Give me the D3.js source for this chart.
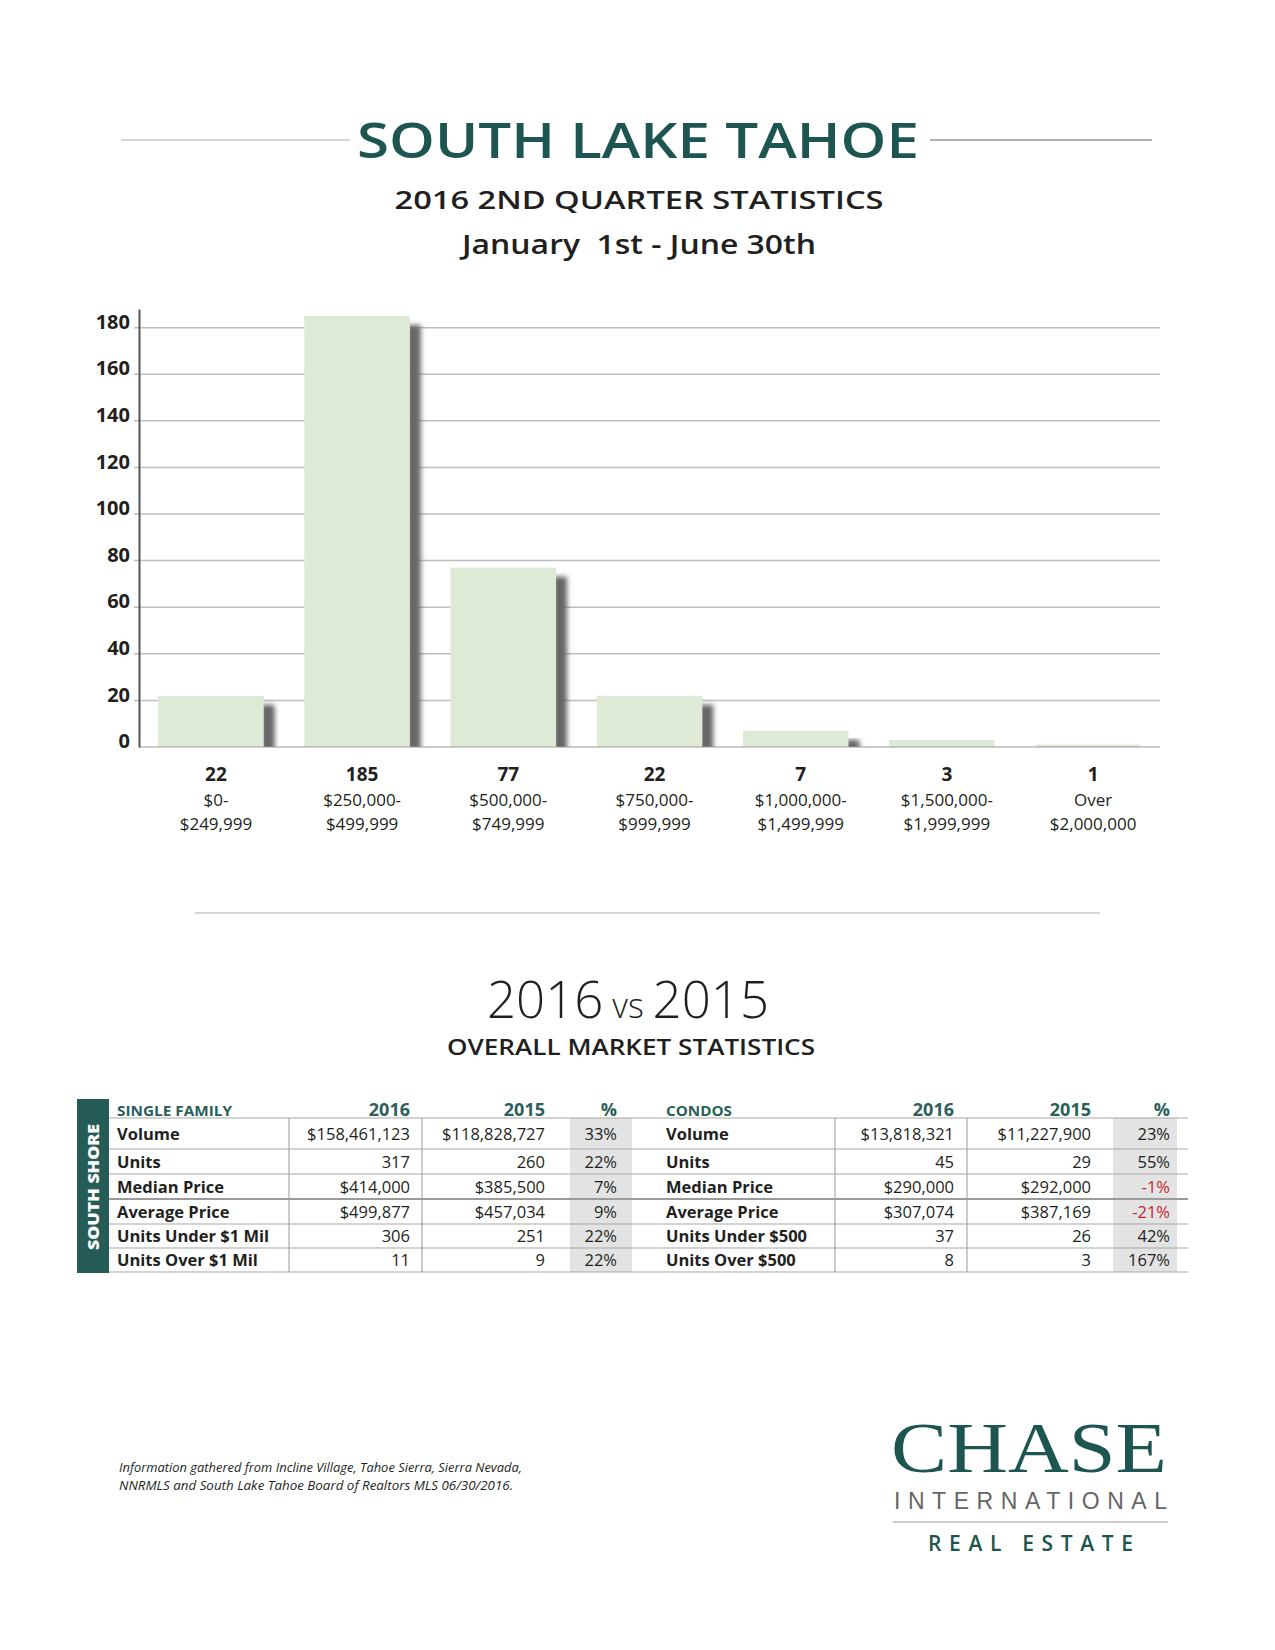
<!DOCTYPE html>
<html>
<head>
<meta charset="utf-8">
<script src="https://cdn.jsdelivr.net/npm/d3@7"></script>
<style>
  body { margin: 0; background: #fff; }
  text { font-family: "Open Sans", "DejaVu Sans", sans-serif; }
</style>
</head>
<body>
<svg id="page" width="1275" height="1650"></svg>
<script>
// bar chart data
var priceRanges = [
    ["$0-", "$249,999"],
    ["$250,000-", "$499,999"],
    ["$500,000-", "$749,999"],
    ["$750,000-", "$999,999"],
    ["$1,000,000-", "$1,499,999"],
    ["$1,500,000-", "$1,999,999"],
    ["Over", "$2,000,000"]
];
var unitsSold = [22, 185, 77, 22, 7, 3, 1];
var yTicks = [0, 20, 40, 60, 80, 100, 120, 140, 160, 180];

// table data
var tableCols = ["2016", "2015", "%"];
var sfLabels = ["Volume", "Units", "Median Price", "Average Price", "Units Under $1 Mil", "Units Over $1 Mil"];
var sf2016 = ["$158,461,123", "317", "$414,000", "$499,877", "306", "11"];
var sf2015 = ["$118,828,727", "260", "$385,500", "$457,034", "251", "9"];
var sfPct = ["33%", "22%", "7%", "9%", "22%", "22%"];
var condoLabels = ["Volume", "Units", "Median Price", "Average Price", "Units Under $500", "Units Over $500"];
var condo2016 = ["$13,818,321", "45", "$290,000", "$307,074", "37", "8"];
var condo2015 = ["$11,227,900", "29", "$292,000", "$387,169", "26", "3"];
var condoPct = ["23%", "55%", "-1%", "-21%", "42%", "167%"];

var teal = "#1d5651",
    ink = "#231f20";

var svg = d3.select("#page");

// ---- header ----
svg.append("line").attr("x1", 121).attr("x2", 350).attr("y1", 140).attr("y2", 140)
    .attr("stroke", "#c8c8c8").attr("stroke-width", 1.5);
svg.append("line").attr("x1", 930).attr("x2", 1152).attr("y1", 140).attr("y2", 140)
    .attr("stroke", "#999").attr("stroke-width", 1.5);
svg.append("text").attr("x", 638).attr("y", 158).attr("text-anchor", "middle")
    .attr("font-size", 49).attr("font-weight", 600).attr("fill", teal)
    .attr("textLength", 562).attr("lengthAdjust", "spacingAndGlyphs")
    .text("SOUTH LAKE TAHOE");
svg.append("text").attr("x", 639).attr("y", 209).attr("text-anchor", "middle")
    .attr("font-size", 26).attr("font-weight", 600).attr("fill", ink)
    .attr("textLength", 489).attr("lengthAdjust", "spacingAndGlyphs")
    .text("2016 2ND QUARTER STATISTICS");
svg.append("text").attr("x", 639).attr("y", 254).attr("text-anchor", "middle")
    .attr("font-size", 27).attr("font-weight", 600).attr("fill", ink)
    .attr("textLength", 354).attr("lengthAdjust", "spacingAndGlyphs")
    .style("white-space", "pre")
    .text("January  1st - June 30th");

// ---- bar chart ----
var x = d3.scaleBand()
    .domain(d3.range(unitsSold.length))
    .range([139, 1160])
    .paddingInner(0.278)
    .paddingOuter(0.131);
var y = d3.scaleLinear().domain([0, 188]).range([747, 309]);

var defs = svg.append("defs");
defs.append("filter").attr("id", "blur")
    .attr("x", "-50%").attr("y", "-10%").attr("width", "200%").attr("height", "120%")
    .append("feGaussianBlur").attr("stdDeviation", 2.5);
defs.append("clipPath").attr("id", "aboveBase")
    .append("rect").attr("x", 0).attr("y", 0).attr("width", 1275).attr("height", y(0));

var chart = svg.append("g");

// gridlines
chart.selectAll(".grid").data(yTicks.filter(function(d) { return d > 0; }))
    .enter().append("line")
    .attr("x1", 134).attr("x2", 1160)
    .attr("y1", function(d) { return y(d); })
    .attr("y2", function(d) { return y(d); })
    .attr("stroke", "#bdbdbd").attr("stroke-width", 1.5);

// shadows
chart.append("g").attr("clip-path", "url(#aboveBase)")
    .selectAll("rect").data(unitsSold).enter().append("rect")
    .attr("x", function(d, i) { return x(i) + x.bandwidth() - 3; })
    .attr("width", 14)
    .attr("y", function(d) { return y(d) + 9; })
    .attr("height", function(d) { return Math.max(0, y(0) - y(d)); })
    .attr("fill", "#666")
    .attr("filter", "url(#blur)");

// bars
chart.selectAll(".bar").data(unitsSold).enter().append("rect")
    .attr("x", function(d, i) { return x(i); })
    .attr("width", x.bandwidth())
    .attr("y", function(d) { return y(d); })
    .attr("height", function(d) { return y(0) - y(d); })
    .attr("fill", "#deead6");

// baseline and axis
chart.append("line").attr("x1", 139).attr("x2", 1160).attr("y1", y(0)).attr("y2", y(0))
    .attr("stroke", "#9a9a9a").attr("stroke-width", 1.2);
var yAxis = d3.axisLeft(y).tickValues(yTicks).tickSize(0).tickPadding(9);
var ax = chart.append("g").attr("transform", "translate(139,0)").call(yAxis);
ax.select(".domain").attr("stroke", "#555").attr("stroke-width", 2);
ax.selectAll("text")
    .attr("font-size", 20).attr("font-weight", 700).attr("fill", ink)
    .attr("dy", "0.03em")
    .style("font-family", "'Open Sans', sans-serif");

// value and category labels
var lab = chart.selectAll(".lab").data(unitsSold).enter().append("g")
    .attr("transform", function(d, i) { return "translate(" + (x(i) + x.bandwidth() / 2 + 5) + ",0)"; });
lab.append("text").attr("y", 781).attr("text-anchor", "middle")
    .attr("font-size", 19).attr("font-weight", 700).attr("fill", ink)
    .text(function(d) { return d; });
lab.append("text").attr("y", 806).attr("text-anchor", "middle")
    .attr("font-size", 17).attr("fill", ink)
    .text(function(d, i) { return priceRanges[i][0]; });
lab.append("text").attr("y", 830).attr("text-anchor", "middle")
    .attr("font-size", 17).attr("fill", ink)
    .text(function(d, i) { return priceRanges[i][1]; });

// ---- second section ----
svg.append("line").attr("x1", 195).attr("x2", 1100).attr("y1", 913).attr("y2", 913)
    .attr("stroke", "#c8c8c8").attr("stroke-width", 1.5);

var vs = svg.append("text").attr("x", 628).attr("y", 1018).attr("text-anchor", "middle")
    .attr("fill", ink).style("white-space", "pre");
vs.append("tspan").attr("font-size", 51).attr("font-weight", 300).text("2016");
vs.append("tspan").attr("font-size", 34).attr("font-weight", 300).text(" vs ");
vs.append("tspan").attr("font-size", 51).attr("font-weight", 300).text("2015");

svg.append("text").attr("x", 631).attr("y", 1055).attr("text-anchor", "middle")
    .attr("font-size", 22).attr("font-weight", 600).attr("fill", ink)
    .attr("textLength", 368).attr("lengthAdjust", "spacingAndGlyphs")
    .text("OVERALL MARKET STATISTICS");

// ---- table ----
var rowLines = [1118, 1149, 1174, 1199, 1224, 1248, 1272];
var table = svg.append("g");

// side bar
table.append("rect").attr("x", 77).attr("y", 1099).attr("width", 32).attr("height", 1273 - 1099)
    .attr("fill", "#255c57");
table.append("text")
    .attr("transform", "translate(99,1187) rotate(-90)")
    .attr("text-anchor", "middle")
    .attr("font-size", 16).attr("font-weight", 800).attr("fill", "#fff")
    .attr("textLength", 126).attr("lengthAdjust", "spacingAndGlyphs")
    .text("SOUTH SHORE");

function drawBlock(b) {
    // gray % column
    table.append("rect").attr("x", b.pctX0).attr("y", rowLines[0])
        .attr("width", b.pctX1 - b.pctX0).attr("height", rowLines[6] - rowLines[0])
        .attr("fill", "#e3e3e3");
    // vertical dividers
    b.dividers.forEach(function(dx) {
        table.append("line").attr("x1", dx).attr("x2", dx)
            .attr("y1", rowLines[0]).attr("y2", rowLines[6])
            .attr("stroke", "#a8a8a8").attr("stroke-width", 1.2);
    });
    // header
    table.append("text").attr("x", b.labelX).attr("y", 1116)
        .attr("font-size", 14.5).attr("font-weight", 700).attr("fill", "#2a5f5a")
        .attr("textLength", b.titleLen).attr("lengthAdjust", "spacingAndGlyphs")
        .text(b.title);
    tableCols.forEach(function(c, j) {
        table.append("text").attr("x", b.colX[j]).attr("y", 1116).attr("text-anchor", "end")
            .attr("font-size", 18).attr("font-weight", 700).attr("fill", "#2a5f5a")
            .text(c);
    });
    // rows
    b.labels.forEach(function(l, i) {
        var ty = (rowLines[i] + rowLines[i + 1]) / 2 + 6;
        table.append("text").attr("x", b.labelX).attr("y", ty)
            .attr("font-size", 16.5).attr("font-weight", 700).attr("fill", ink).text(l);
        [b.v16[i], b.v15[i], b.pct[i]].forEach(function(v, j) {
            table.append("text").attr("x", b.colX[j]).attr("y", ty).attr("text-anchor", "end")
                .attr("font-size", 16.5)
                .attr("fill", (j === 2 && v.charAt(0) === "-") ? "#c1272d" : ink)
                .text(v);
        });
    });
}

drawBlock({
    title: "SINGLE FAMILY", titleLen: 115, labelX: 117, labels: sfLabels,
    v16: sf2016, v15: sf2015, pct: sfPct,
    colX: [410, 545, 617], dividers: [289, 422], pctX0: 570, pctX1: 632
});
drawBlock({
    title: "CONDOS", titleLen: 66, labelX: 666, labels: condoLabels,
    v16: condo2016, v15: condo2015, pct: condoPct,
    colX: [954, 1091, 1170], dividers: [835, 967], pctX0: 1113, pctX1: 1177
});

// row lines
rowLines.forEach(function(ry, i) {
    table.append("line").attr("x1", 109).attr("x2", 1188).attr("y1", ry).attr("y2", ry)
        .attr("stroke", i === 3 ? "#9a9a9a" : "#a8a8a8")
        .attr("stroke-width", i === 3 ? 2.2 : 1.2);
});

// ---- footnote ----
svg.append("text").attr("x", 119).attr("y", 1472)
    .attr("font-size", 12.5).attr("font-style", "italic").attr("fill", ink)
    .attr("textLength", 403).attr("lengthAdjust", "spacingAndGlyphs")
    .text("Information gathered from Incline Village, Tahoe Sierra, Sierra Nevada,");
svg.append("text").attr("x", 119).attr("y", 1490)
    .attr("font-size", 12.5).attr("font-style", "italic").attr("fill", ink)
    .attr("textLength", 394).attr("lengthAdjust", "spacingAndGlyphs")
    .text("NNRMLS and South Lake Tahoe Board of Realtors MLS 06/30/2016.");

// ---- logo ----
svg.append("text").attr("x", 891).attr("y", 1472)
    .style("font-family", "'Liberation Serif', 'DejaVu Serif', serif")
    .attr("font-size", 72).attr("fill", teal)
    .attr("textLength", 276).attr("lengthAdjust", "spacingAndGlyphs")
    .text("CHASE");
svg.append("text").attr("x", 894).attr("y", 1509)
    .style("font-family", "'Liberation Sans', 'Open Sans', sans-serif")
    .attr("font-size", 23).attr("fill", "#666")
    .attr("textLength", 273).attr("lengthAdjust", "spacing")
    .text("INTERNATIONAL");
svg.append("line").attr("x1", 893).attr("x2", 1168).attr("y1", 1522).attr("y2", 1522)
    .attr("stroke", "#999").attr("stroke-width", 1.2);
svg.append("text").attr("x", 928).attr("y", 1551)
    .attr("font-size", 21).attr("font-weight", 600).attr("fill", teal)
    .attr("textLength", 205).attr("lengthAdjust", "spacing")
    .text("REAL ESTATE");
</script>
</body>
</html>
